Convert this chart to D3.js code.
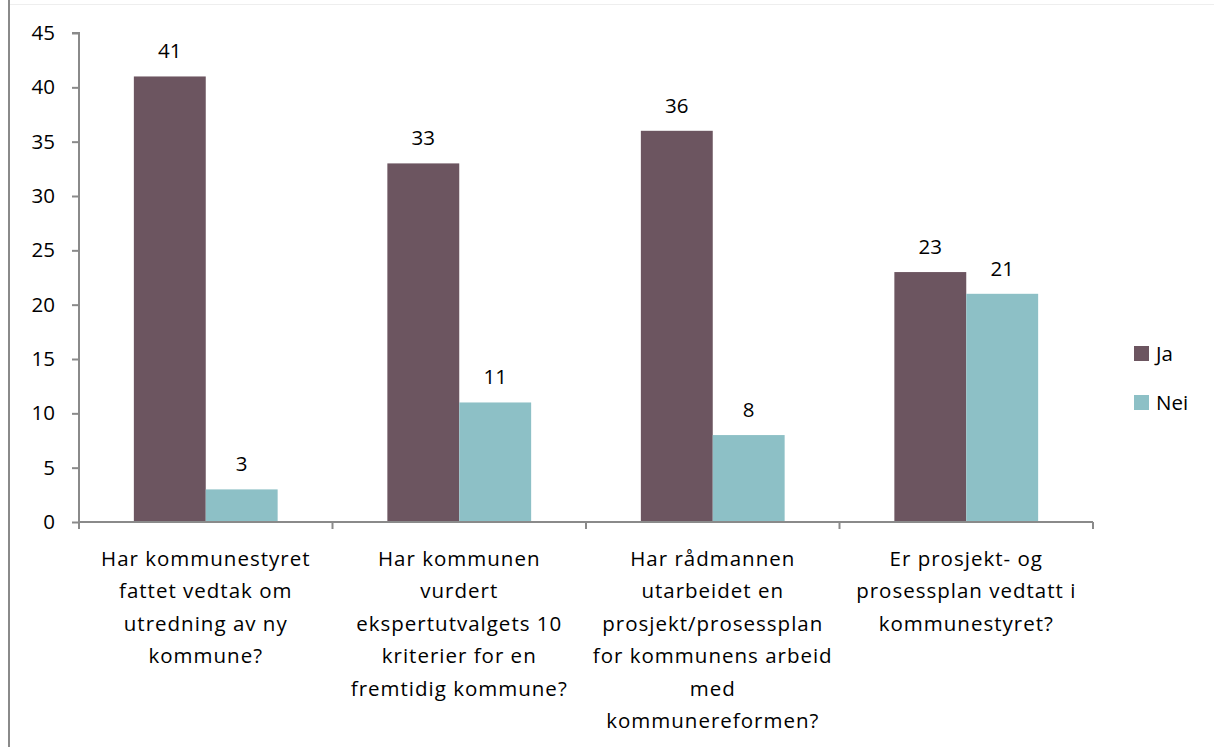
<!DOCTYPE html>
<html><head><meta charset="utf-8">
<script src="https://cdn.jsdelivr.net/npm/d3@7"></script>
<style>body{margin:0;background:#fff}svg{display:block}text{font-family:"Open Sans",Lato,sans-serif;fill:#000}</style>
</head><body><svg id="c" width="1214" height="747"></svg>
<script>
const categories = [
  ["Har kommunestyret","fattet vedtak om","utredning av ny","kommune?"],
  ["Har kommunen","vurdert","ekspertutvalgets 10","kriterier for en","fremtidig kommune?"],
  ["Har rådmannen","utarbeidet en","prosjekt/prosessplan","for kommunens arbeid","med","kommunereformen?"],
  ["Er prosjekt- og","prosessplan vedtatt i","kommunestyret?"]
];
const seriesNames = ["Ja","Nei"];
const jaValues = [41,33,36,23];
const neiValues = [3,11,8,21];
const yTicks = [0,5,10,15,20,25,30,35,40,45];
const colors = {Ja:"#6C5560", Nei:"#8DC0C6"};
const FS = 20.5;

const svg = d3.select("#c");
const pLeft = 79, pRight = 1093, pTop = 33, pBottom = 522;
const x = d3.scaleBand().domain(d3.range(categories.length)).range([pLeft,pRight]).paddingInner(0).paddingOuter(0);
const inner = d3.scaleBand().domain(seriesNames).range([0,x.bandwidth()]).paddingInner(0).paddingOuter(0.763);
const y = d3.scaleLinear().domain([0,45]).range([pBottom,pTop]);

// frame lines
svg.append("line").attr("x1",9).attr("x2",9).attr("y1",0).attr("y2",747).attr("stroke","#8a8a8a").attr("stroke-width",2);
svg.append("line").attr("x1",10).attr("x2",1214).attr("y1",4.5).attr("y2",4.5).attr("stroke","#eeeeee").attr("stroke-width",1);

const data = seriesNames.map(s => ({s, vals: s==="Ja"?jaValues:neiValues}));
data.forEach(d => {
  svg.append("g").selectAll("rect").data(d.vals).join("rect")
    .attr("x",(v,i)=>x(i)+inner(d.s)).attr("width",inner.bandwidth())
    .attr("y",v=>y(v)).attr("height",v=>y(0)-y(v)).attr("fill",colors[d.s]);
  svg.append("g").selectAll("text").data(d.vals).join("text")
    .attr("x",(v,i)=>x(i)+inner(d.s)+inner.bandwidth()/2).attr("y",v=>y(v)-18)
    .attr("text-anchor","middle").attr("font-size",FS).text(v=>v);
});

// y axis
const ya = svg.append("g").attr("transform",`translate(${pLeft},0)`)
  .call(d3.axisLeft(y).tickValues(yTicks).tickSize(7).tickPadding(17));
ya.select(".domain").attr("stroke","#8a8a8a").attr("stroke-width",2).attr("d",`M-7,${pTop}H0V${pBottom}`);
ya.selectAll(".tick line").attr("stroke","#8a8a8a").attr("stroke-width",2);
ya.selectAll(".tick text").attr("font-size",FS).attr("font-family","Open Sans").attr("fill","#000");

// x axis
const xa = svg.append("g").attr("transform",`translate(0,${pBottom})`);
xa.append("line").attr("x1",pLeft).attr("x2",pRight).attr("stroke","#8a8a8a").attr("stroke-width",2);
xa.selectAll("line.t").data(d3.range(categories.length+1)).join("line").attr("class","t")
  .attr("x1",i=>pLeft+i*x.bandwidth()).attr("x2",i=>pLeft+i*x.bandwidth()).attr("y1",0).attr("y2",7)
  .attr("stroke","#8a8a8a").attr("stroke-width",2);
categories.forEach((lines,i)=>{
  const t = svg.append("text").attr("text-anchor","middle").attr("font-size",FS).attr("letter-spacing",1);
  lines.forEach((l,j)=>t.append("tspan").attr("x",x(i)+x.bandwidth()/2).attr("y",566+j*32.4).text(l));
});

// legend
seriesNames.forEach((s,i)=>{
  const cy = 354 + i*49;
  svg.append("rect").attr("x",1134).attr("y",cy-8).attr("width",15).attr("height",15).attr("fill",colors[s]);
  svg.append("text").attr("x",1156).attr("y",cy+7).attr("font-size",FS).text(s);
});
</script></body></html>
